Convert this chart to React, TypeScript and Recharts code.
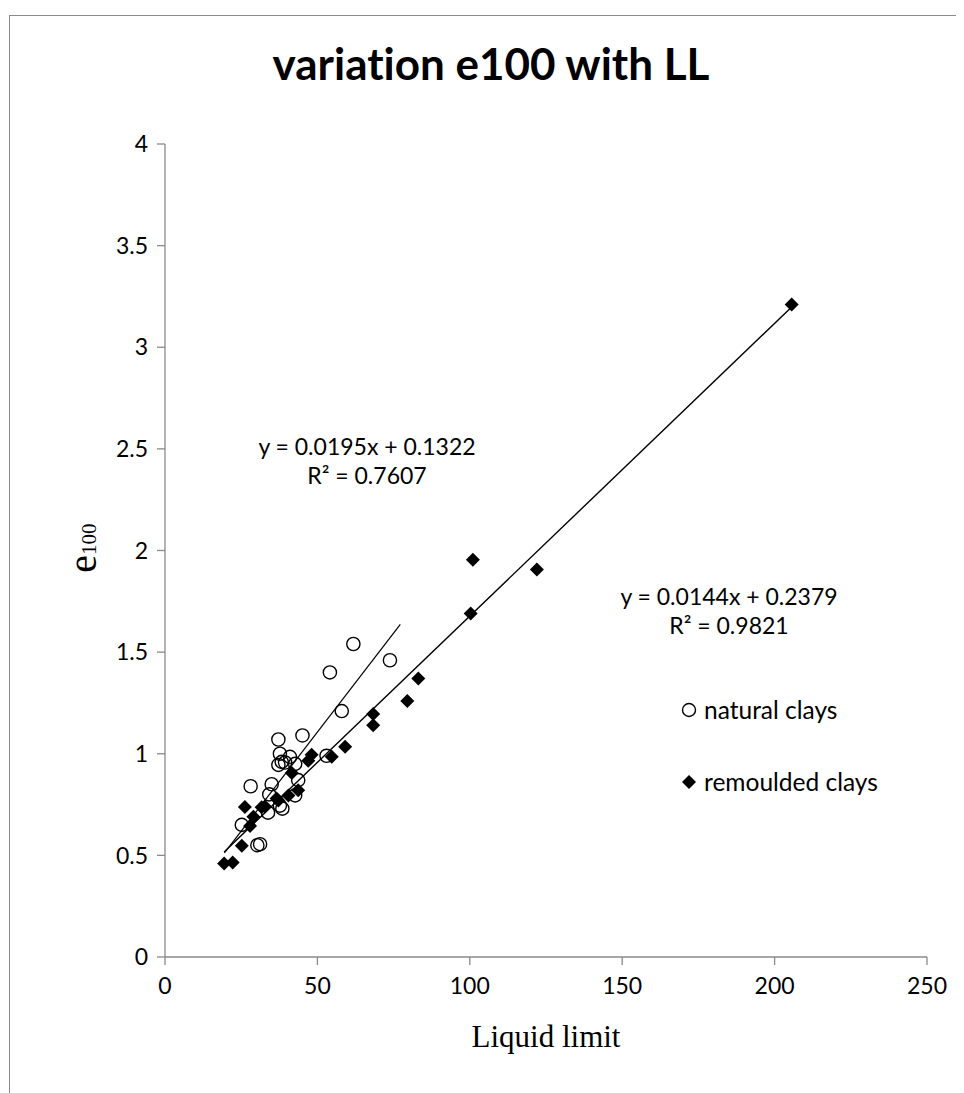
import { ScatterChart, Scatter, XAxis, YAxis } from 'recharts'

// natural clays (open circles)
const naturalLL = [25.2, 28.1, 30.3, 31.2, 33.8, 34.2, 35.0, 37.2, 37.7, 37.2, 38.3, 39.4, 41.0, 42.7, 37.7, 38.5, 42.7, 43.7, 45.1, 53.0, 54.1, 58.0, 61.8, 73.8]
const naturalE = [0.65, 0.84, 0.55, 0.555, 0.71, 0.8, 0.85, 1.07, 1.0, 0.945, 0.96, 0.957, 0.985, 0.95, 0.745, 0.73, 0.795, 0.87, 1.09, 0.99, 1.4, 1.21, 1.54, 1.46]

// remoulded clays (filled diamonds)
const remouldedLL = [19.4, 22.2, 25.2, 26.2, 27.9, 29.0, 31.7, 32.8, 36.6, 37.2, 40.5, 41.6, 43.7, 47.0, 48.1, 54.7, 59.1, 68.3, 68.3, 79.5, 83.1, 100.3, 101.0, 122.0, 205.6]
const remouldedE = [0.46, 0.465, 0.547, 0.738, 0.645, 0.69, 0.737, 0.74, 0.78, 0.77, 0.795, 0.905, 0.82, 0.965, 0.995, 0.985, 1.035, 1.195, 1.14, 1.26, 1.37, 1.69, 1.955, 1.906, 3.21]

// trendline end points as drawn
const naturalTrendX = [19.5, 77.2]
const naturalTrendY = [0.512, 1.637]
const remouldedTrendX = [19.4, 205.6]
const remouldedTrendY = [0.517, 3.198]

const xTicks = [0, 50, 100, 150, 200, 250]
const yTicks = [0, 0.5, 1, 1.5, 2, 2.5, 3, 3.5, 4]

const toPoints = (xs: number[], ys: number[]) => xs.map((x, i) => ({ x, y: ys[i] }))

const naturalData = toPoints(naturalLL, naturalE)
const remouldedData = toPoints(remouldedLL, remouldedE)
const naturalTrend = toPoints(naturalTrendX, naturalTrendY)
const remouldedTrend = toPoints(remouldedTrendX, remouldedTrendY)

const AXIS = '#8a8a8a'
const FONT = 'Lato, "Noto Sans", sans-serif'
const SERIF = '"Liberation Serif", "Times New Roman", serif'

const OpenCircle = (props: any) => {
  const { cx, cy } = props
  if (cx == null || cy == null) return <g />
  return <circle cx={cx} cy={cy} r={6.6} fill="none" stroke="#000" strokeWidth={1.4} />
}

const Diamond = (props: any) => {
  const { cx, cy } = props
  if (cx == null || cy == null) return <g />
  const d = 7
  return <polygon points={`${cx},${cy - d} ${cx + d},${cy} ${cx},${cy + d} ${cx - d},${cy}`} fill="#000" />
}

const NoDot = () => <g />

const tickStyle = { fill: '#000', fontSize: 23, fontFamily: FONT }

function Label({ cx, cy, children, size = 23, w = 400 }: { cx: number; cy: number; children: any; size?: number; w?: number }) {
  return (
    <div
      style={{
        position: 'absolute',
        left: cx - 8 - w / 2,
        top: cy - 8 - size * 0.6,
        width: w,
        textAlign: 'center',
        fontSize: size,
        lineHeight: `${size * 1.2}px`,
        fontFamily: FONT,
        fontVariantLigatures: 'none',
        color: '#000',
        whiteSpace: 'nowrap',
      }}
    >
      {children}
    </div>
  )
}

const legendRow = {
  position: 'absolute' as const,
  left: 680 - 8,
  display: 'flex',
  alignItems: 'center',
  fontFamily: FONT,
  fontSize: 24.5,
  lineHeight: '30px',
}

export default function App() {
  return (
    <div style={{ position: 'relative', width: 956, height: 1085, background: '#fff' }}>
      <div
        style={{
          position: 'absolute',
          left: 1,
          top: 7,
          width: 960,
          height: 1080,
          borderLeft: `1px solid ${AXIS}`,
          borderTop: `1px solid ${AXIS}`,
        }}
      />
      <Label cx={491} cy={63} size={44} w={700}>
        <b>variation e100 with LL</b>
      </Label>

      <ScatterChart
        width={956}
        height={1080}
        margin={{ top: 136, right: 37, bottom: 91, left: 97 }}
        style={{ position: 'absolute', left: 0, top: 0 }}
      >
        <XAxis
          type="number"
          dataKey="x"
          domain={[0, 250]}
          ticks={xTicks}
          height={40}
          tick={tickStyle}
          tickSize={8}
          tickMargin={13}
          stroke={AXIS}
          strokeWidth={1.3}
          allowDataOverflow
        />
        <YAxis
          type="number"
          dataKey="y"
          domain={[0, 4]}
          ticks={yTicks}
          width={60}
          tick={tickStyle}
          tickSize={8}
          tickMargin={9}
          stroke={AXIS}
          strokeWidth={1.3}
          allowDataOverflow
        />
        <Scatter data={naturalData} shape={OpenCircle} isAnimationActive={false} />
        <Scatter data={remouldedData} shape={Diamond} isAnimationActive={false} />
        <Scatter
          data={naturalTrend}
          shape={NoDot}
          line={{ stroke: '#000', strokeWidth: 1.2 }}
          isAnimationActive={false}
        />
        <Scatter
          data={remouldedTrend}
          shape={NoDot}
          line={{ stroke: '#000', strokeWidth: 1.4 }}
          isAnimationActive={false}
        />
      </ScatterChart>

      <Label cx={367} cy={447}>y = 0.0195x + 0.1322</Label>
      <Label cx={367} cy={476}>R² = 0.7607</Label>
      <Label cx={729} cy={597}>y = 0.0144x + 0.2379</Label>
      <Label cx={729} cy={626}>R² = 0.9821</Label>

      {/* legend */}
      <div style={{ ...legendRow, top: 710 - 8 - 15 }}>
        <svg width={18} height={18} style={{ marginRight: 6 }}>
          <circle cx={9} cy={9} r={6.5} fill="none" stroke="#000" strokeWidth={1.4} />
        </svg>
        natural clays
      </div>
      <div style={{ ...legendRow, top: 782 - 8 - 15 }}>
        <svg width={18} height={18} style={{ marginRight: 6 }}>
          <polygon points="9,2 16,9 9,16 2,9" fill="#000" />
        </svg>
        remoulded clays
      </div>

      {/* axis titles */}
      <Label cx={546} cy={1036} size={31}>
        <span style={{ fontFamily: SERIF }}>Liquid limit</span>
      </Label>
      <div
        style={{
          position: 'absolute',
          left: 83 - 8 - 40,
          top: 548 - 8 - 20,
          width: 80,
          height: 40,
          lineHeight: '40px',
          textAlign: 'center',
          transform: 'rotate(-90deg)',
          fontFamily: SERIF,
          whiteSpace: 'nowrap',
        }}
      >
        <span style={{ fontSize: 40 }}>e</span>
        <span style={{ fontSize: 21 }}>100</span>
      </div>
    </div>
  )
}
